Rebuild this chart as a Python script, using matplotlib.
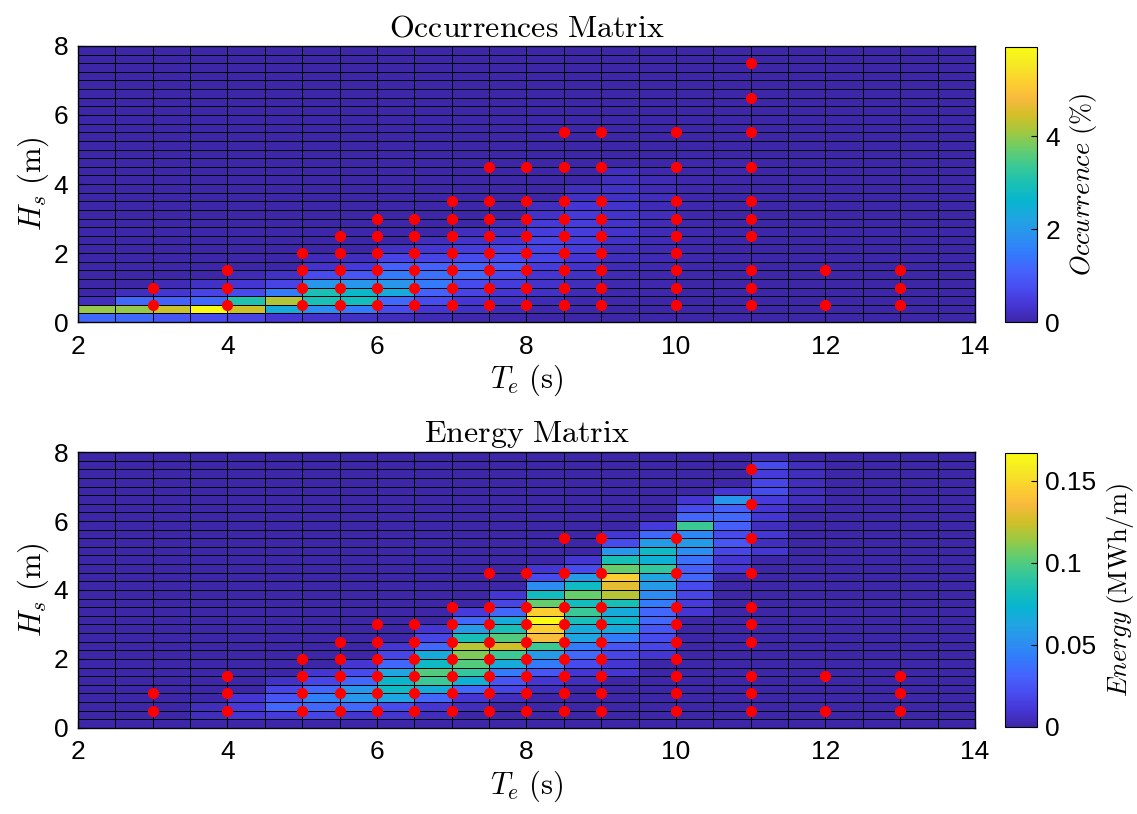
import numpy as np
import matplotlib
matplotlib.use('Agg')
import matplotlib.pyplot as plt
from matplotlib.colors import LinearSegmentedColormap

plt.rcParams['font.family'] = ['Liberation Sans', 'DejaVu Sans']
plt.rcParams['mathtext.fontset'] = 'cm'

# bin edges of the scatter diagram
te_edges = np.arange(2.0, 14.01, 0.5)
hs_edges = np.arange(0.0, 8.01, 0.25)

# occurrence (%) per Te bin (2.0, 2.5, ... 13.5), values listed from Hs = 0 upwards
occ_columns = [
    [1.19, 4.03, 0.18],
    [1.19, 4.03, 1.19, 0.18],
    [0.89, 4.40, 1.07, 0.36, 0.12],
    [0.71, 5.93, 1.19, 0.59, 0.24],
    [0.59, 4.40, 3.08, 0.71, 0.36, 0.12],
    [0.36, 2.37, 4.20, 1.48, 0.59, 0.24],
    [0.30, 1.78, 2.97, 2.97, 1.96, 0.71, 0.30, 0.12],
    [0.24, 1.48, 2.85, 2.67, 1.96, 0.89, 0.42, 0.18],
    [0.18, 0.71, 1.19, 2.37, 1.96, 1.48, 1.07, 0.59, 0.24],
    [0.12, 0.36, 0.71, 1.07, 1.48, 1.30, 1.07, 0.59, 0.36, 0.18],
    [0.06, 0.24, 0.36, 0.59, 0.71, 1.19, 1.07, 0.71, 0.47, 0.30, 0.18],
    [0.03, 0.12, 0.24, 0.36, 0.47, 0.71, 0.95, 0.71, 0.59, 0.36, 0.24, 0.18],
    [0.02, 0.06, 0.12, 0.24, 0.30, 0.36, 0.47, 0.59, 0.59, 0.59, 0.47, 0.42, 0.30, 0.18],
    [0.0, 0.03, 0.06, 0.12, 0.18, 0.24, 0.30, 0.36, 0.47, 0.47, 0.47, 0.47, 0.42, 0.36, 0.24, 0.18],
    [0, 0, 0.03, 0.06, 0.08, 0.10, 0.12, 0.15, 0.18, 0.24, 0.30, 0.30, 0.30, 0.30, 0.24, 0.24, 0.18, 0.18],
    [0, 0, 0, 0.03, 0.05, 0.06, 0.08, 0.10, 0.10, 0.12, 0.12, 0.12, 0.18, 0.12, 0.18, 0.10, 0.12, 0.06],
    [0, 0, 0, 0, 0.02, 0.03, 0.04, 0.05, 0.05, 0.05, 0.06, 0.06, 0.06, 0.06, 0.06, 0.05, 0.05, 0.04, 0.04, 0.03],
    [0, 0, 0, 0, 0, 0, 0.02, 0.02, 0.02, 0.02, 0.02, 0.02, 0.02, 0.02, 0.02, 0.02, 0.03, 0.03, 0.03, 0.02],
    [0] * 10 + [0.02] * 20,
    [], [], [], [], [],
]

# energy (MWh/m) per Te bin, values listed from Hs = 0 upwards
energy_columns = [
    [], [], [],
    [0, 0.005, 0.005],
    [0, 0.010, 0.013, 0.010],
    [0, 0.013, 0.033, 0.025, 0.017, 0.007],
    [0, 0.017, 0.033, 0.045, 0.033, 0.017, 0.010],
    [0, 0.010, 0.033, 0.055, 0.055, 0.033, 0.020, 0.010],
    [0, 0.010, 0.020, 0.063, 0.078, 0.075, 0.063, 0.033, 0.017, 0.010],
    [0, 0.005, 0.010, 0.033, 0.067, 0.094, 0.100, 0.078, 0.067, 0.033, 0.017, 0.010],
    [0, 0, 0.005, 0.010, 0.033, 0.070, 0.092, 0.100, 0.109, 0.120, 0.083, 0.058, 0.033, 0.013],
    [0, 0, 0, 0.005, 0.017, 0.025, 0.042, 0.067, 0.095, 0.125, 0.100, 0.083, 0.067, 0.033, 0.017, 0.010],
    [0, 0, 0, 0, 0.005, 0.010, 0.025, 0.042, 0.058, 0.095, 0.137, 0.145, 0.167, 0.145, 0.105,
     0.080, 0.050, 0.020, 0.010],
    [0, 0, 0, 0, 0, 0.005, 0.010, 0.020, 0.033, 0.042, 0.063, 0.067, 0.083, 0.094, 0.080,
     0.105, 0.078, 0.058, 0.020, 0.010],
    [0, 0, 0, 0, 0, 0, 0.010, 0.010, 0.017, 0.025, 0.042, 0.067, 0.075, 0.067, 0.083, 0.120,
     0.130, 0.145, 0.105, 0.083, 0.055, 0.020, 0.010],
    [0, 0, 0, 0, 0, 0, 0, 0, 0.010, 0.017, 0.020, 0.025, 0.033, 0.033, 0.042, 0.050, 0.058,
     0.063, 0.092, 0.070, 0.078, 0.058, 0.033, 0.013],
    [0] * 13 + [0.010, 0.013, 0.017, 0.020, 0.033, 0.030, 0.037, 0.050, 0.058, 0.047, 0.095,
                0.033, 0.020, 0.010],
    [0] * 18 + [0.010, 0.010, 0.017, 0.025, 0.020, 0.030, 0.033, 0.030, 0.055, 0.010],
    [0] * 20 + [0.010, 0.005, 0.010, 0.005, 0.010, 0.010, 0.013, 0.020, 0.017, 0.013, 0.020, 0.005],
    [0] * 26 + [0.005] * 5,
    [], [], [], [],
]

# sea states simulated (red dots): Te -> list of Hs
dot_te = [3, 4, 5, 5.5, 6, 6.5, 7, 7.5, 8, 8.5, 9, 10, 11, 12, 13]
dot_hs = [
    [0.5, 1.0],
    [0.5, 1.0, 1.5],
    [0.5, 1.0, 1.5, 2.0],
    [0.5, 1.0, 1.5, 2.0, 2.5],
    [0.5, 1.0, 1.5, 2.0, 2.5, 3.0],
    [0.5, 1.0, 1.5, 2.0, 2.5, 3.0],
    [0.5, 1.0, 1.5, 2.0, 2.5, 3.0, 3.5],
    [0.5, 1.0, 1.5, 2.0, 2.5, 3.0, 3.5, 4.5],
    [0.5, 1.0, 1.5, 2.0, 2.5, 3.0, 3.5, 4.5],
    [0.5, 1.0, 1.5, 2.0, 2.5, 3.0, 3.5, 4.5, 5.5],
    [0.5, 1.0, 1.5, 2.0, 2.5, 3.0, 3.5, 4.5, 5.5],
    [0.5, 1.0, 1.5, 2.0, 2.5, 3.0, 3.5, 4.5, 5.5],
    [0.5, 1.0, 1.5, 2.5, 3.0, 3.5, 4.5, 5.5, 6.5, 7.5],
    [0.5, 1.5],
    [0.5, 1.0, 1.5],
]

occ_max = 5.93
energy_max = 0.167

# MATLAB parula (R2014b) anchors
parula = LinearSegmentedColormap.from_list('parula', [
    (0.2422, 0.1504, 0.6603), (0.2706, 0.2147, 0.8364), (0.2813, 0.3006, 0.9414),
    (0.2699, 0.3892, 0.9906), (0.1963, 0.4847, 0.9892), (0.1687, 0.5703, 0.9359),
    (0.1248, 0.6459, 0.8883), (0.0297, 0.7082, 0.8163), (0.0964, 0.7500, 0.7120),
    (0.2161, 0.7843, 0.5923), (0.3909, 0.8029, 0.4354), (0.6174, 0.7876, 0.2612),
    (0.8203, 0.7498, 0.1535), (0.9728, 0.7298, 0.2394), (0.9892, 0.8136, 0.1885),
    (0.9597, 0.9135, 0.1423), (0.9769, 0.9839, 0.0805)], N=256)


def to_matrix(cols):
    m = np.zeros((len(hs_edges) - 1, len(te_edges) - 1))
    for j, c in enumerate(cols):
        m[:len(c), j] = c
    return m


def panel(ax, cax, values, vmax, title, cticks, clabels, clabel):
    mesh = ax.pcolormesh(te_edges, hs_edges, to_matrix(values), cmap=parula,
                         vmin=0, vmax=vmax, edgecolors='k', linewidth=0.7)
    for te, hs in zip(dot_te, dot_hs):
        ax.plot([te] * len(hs), hs, 'o', color='red', ms=8, mec='none')
    ax.set_xlim(2, 14)
    ax.set_ylim(0, 8)
    ax.set_xticks([2, 4, 6, 8, 10, 12, 14])
    ax.set_yticks([0, 2, 4, 6, 8])
    ax.tick_params(direction='in', labelsize=19, length=5)
    ax.tick_params(axis='x', pad=9)
    ax.tick_params(axis='y', pad=7)
    ax.set_xlabel(r'$T_e\ \mathrm{(s)}$', fontsize=22, labelpad=3)
    ax.set_ylabel(r'$H_s\ \mathrm{(m)}$', fontsize=22, labelpad=2)
    ax.set_title(r'$\mathrm{' + title + '}$', fontsize=23, pad=7)
    for s in ax.spines.values():
        s.set_linewidth(1.0)
    cb = plt.colorbar(mesh, cax=cax)
    cb.set_ticks(cticks)
    cb.set_ticklabels(clabels)
    cb.ax.tick_params(direction='in', labelsize=19, length=4, pad=6)
    cb.outline.set_linewidth(0.8)
    cb.set_label(clabel, fontsize=19, labelpad=6)


fig = plt.figure(figsize=(11.37, 8.14), dpi=100)
ax1 = fig.add_axes([0.0686, 0.6044, 0.7889, 0.3391])
cax1 = fig.add_axes([0.8839, 0.6044, 0.0281, 0.3379])
ax2 = fig.add_axes([0.0686, 0.1057, 0.7889, 0.3390])
cax2 = fig.add_axes([0.8839, 0.1069, 0.0281, 0.3366])

panel(ax1, cax1, occ_columns, occ_max, r'Occurrences\ Matrix', [0, 2, 4], ['0', '2', '4'],
      r'$Occurrence\ \mathrm{(\%)}$')
panel(ax2, cax2, energy_columns, energy_max, r'Energy\ Matrix', [0, 0.05, 0.1, 0.15],
      ['0', '0.05', '0.1', '0.15'], r'$Energy\ \mathrm{(MWh/m)}$')

fig.savefig('out.png', dpi=100)
